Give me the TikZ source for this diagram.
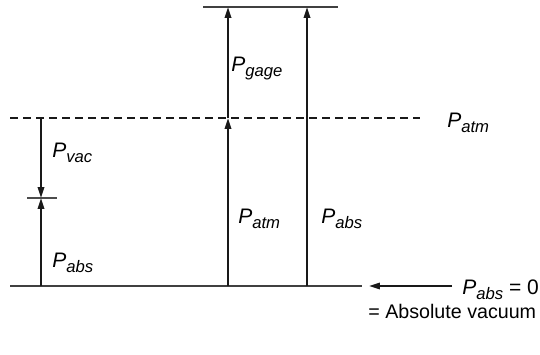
\documentclass[tikz,border=0pt]{standalone}
\usepackage{fontspec}
\setmainfont{Liberation Sans}
\usetikzlibrary{arrows.meta}
\newcommand{\Pl}[1]{\textit{P}\raisebox{-3pt}{\fontsize{10}{11}\selectfont\textit{#1}}}
\begin{document}
\begin{tikzpicture}[x=0.6pt,y=-0.6pt,
  vline/.style={line width=1.3pt,draw=black!90},
  arr/.style={vline,-{Triangle[length=6.5pt,width=3.8pt]}},
  hline/.style={line width=0.9pt,draw=black!75},
  dline/.style={line width=1.2pt,draw=black!90,dash pattern=on 4.8pt off 3pt},
  lab/.style={anchor=base west,inner sep=0pt,font=\fontsize{12.6}{14}\selectfont},
  txt/.style={anchor=base west,inner sep=0pt,font=\fontsize{11.8}{14}\selectfont}]
\useasboundingbox (0,0) rectangle (540,354);
% reference lines
\coordinate (tl) at (203,7);   \coordinate (tr) at (338,7);
\coordinate (dl) at (10,118);  \coordinate (dr) at (420,118);
\coordinate (bl) at (10,286);  \coordinate (br) at (362,286);
\draw[hline] (tl) -- (tr);
\draw[dline] (dl) -- (dr);
\draw[hline] (bl) -- (br);
% left column
\coordinate (a0) at (41,118); \coordinate (a1) at (41,198); \coordinate (a2) at (41,286);
\coordinate (k1) at (27,198); \coordinate (k2) at (57,198);
\draw[line width=0.8pt,draw=black!70] (k1) -- (k2);
\draw[arr] (a0) -- (a1);
\draw[arr] (a2) -- (a1);
% middle column
\coordinate (m0) at (228,286); \coordinate (m1) at (228,118); \coordinate (m2) at (228,7);
\draw[arr] (m0) -- (m1);
\draw[arr] (m1) -- (m2);
% right column
\coordinate (r0) at (307,286); \coordinate (r1) at (307,7);
\draw[arr] (r0) -- (r1);
% zero arrow
\coordinate (z0) at (452,286); \coordinate (z1) at (369,286);
\draw[vline,line width=1.1pt,-{Triangle[length=6.5pt,width=3.8pt]}] (z0) -- (z1);
% labels
\node[lab] (pgage) at (231,71) {\Pl{gage}};
\node[lab] (pvac) at (52,157) {\Pl{vac}};
\node[lab] (pabsl) at (52,267) {\Pl{abs}};
\node[lab] (patmm) at (238,223) {\Pl{atm}};
\node[lab] (pabsr) at (321,223) {\Pl{abs}};
\node[lab] (patmr) at (447,127) {\Pl{atm}};
\node[lab] (pzero) at (462,294) {\Pl{abs} = 0};
\node[txt] (vac) at (368,318) {= Absolute vacuum};
\end{tikzpicture}
\end{document}
